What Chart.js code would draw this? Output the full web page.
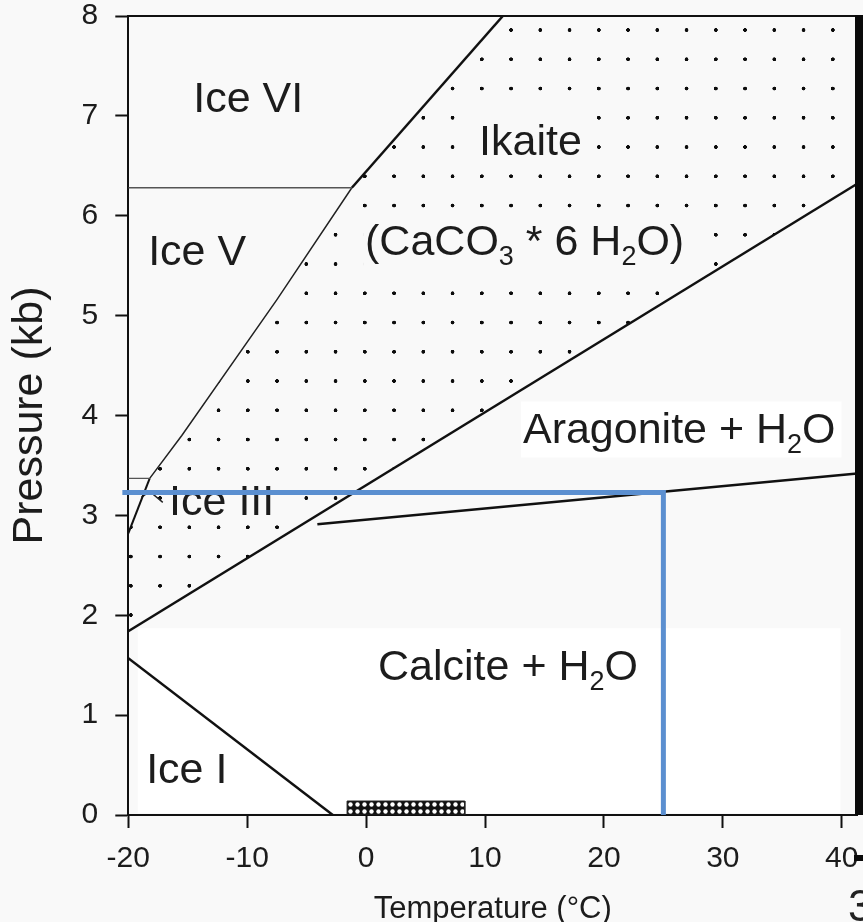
<!DOCTYPE html>
<html lang="en">
<head>
<meta charset="UTF-8">
<title>Ikaite stability field</title>
<script src="https://cdn.jsdelivr.net/npm/chart.js@4.4.1/dist/chart.umd.min.js"></script>
<style>
  html, body { margin: 0; padding: 0; background: #f9f9f9; }
  .wrap { width: 863px; height: 922px; position: relative; }
</style>
</head>
<body>
<div class="wrap"><canvas id="phase"></canvas></div>
<script>
// axis ticks
const tempTicks = [-20, -10, 0, 10, 20, 30, 40];
const pressTicks = [0, 1, 2, 3, 4, 5, 6, 7, 8];

// phase boundaries as [temperature (°C), pressure (kb)]
const iceVIceVI = [[-20, 6.28], [-1.2, 6.28]];
const iceIIIceV = [[-20, 3.37], [-18.2, 3.37]];
const iceIIIIkaite = [[-20, 2.82], [-18.2, 3.37]];
const iceVIkaite = [[-18.2, 3.37], [-15.5, 3.8], [-7.5, 5.16], [-1.2, 6.28]];
const iceVIIkaite = [[-1.2, 6.28], [11.5, 8]];
const ikaiteAragonite = [[-20, 1.84], [41.3, 6.32]];
const aragoniteCalcite = [[-4.1, 2.91], [41.3, 3.42]];
const iceICalcite = [[-20, 1.57], [-2.8, 0]];
const iceIIILeader = [[-18.9, 3.18], [-18.2, 3.24], [-17.1, 3.13]];

// bottom-water band near the x axis
const seafloorBand = [[-1.6, 0], [-1.6, 0.14], [8.3, 0.14], [8.3, 0], [-1.6, 0]];

// highlighted reading: 25 °C at 3.23 kb
const markerPath = [[-20.5, 3.23], [25, 3.23], [25, 0]];

// ikaite field, closed outline built from its boundaries
const ikaiteField = [
  iceVIIkaite[1], [41.3, 8], ikaiteAragonite[1], ikaiteAragonite[0],
  ...iceIIIIkaite, ...iceVIkaite.slice(1), iceVIIkaite[1]
];

// field names, {n} = subscript
const fieldNames = ['Ice VI', 'Ikaite', '(CaCO{3} * 6 H{2}O)', 'Ice V', 'Ice III',
                    'Aragonite + H{2}O', 'Calcite + H{2}O', 'Ice I'];
const fieldNameT = [-14.54, 9.5, -0.09, -18.33, -16.57, 13.19, 1.0, -18.5];
const fieldNameP = [7.04, 6.61, 5.61, 5.51, 3.0, 3.72, 1.35, 0.32];

const FONT = '"Liberation Sans", Arial, Helvetica, sans-serif';
const INK = '#1c1c1c';
const PAGE = '#f9f9f9';
// which names sit on a plain patch (masks the dot screen)
const nameBacking = [null, PAGE, PAGE, null, PAGE, '#ffffff', null, null];

Chart.defaults.font.family = FONT;
Chart.defaults.color = INK;

const ctx = document.getElementById('phase').getContext('2d');

function makeDotPattern() {
  const c = document.createElement('canvas');
  c.width = c.height = 100;
  const g = c.getContext('2d');
  g.fillStyle = '#0c0c0c';
  g.beginPath();
  g.arc(50, 50, 6.6, 0, Math.PI * 2);
  g.fill();
  const p = ctx.createPattern(c, 'repeat');
  const s = 0.2925;
  p.setTransform(new DOMMatrix([s, 0, 0, s, 130.8 - 50 * s, 30 - 50 * s]));
  return p;
}

function makeBeadPattern() {
  const c = document.createElement('canvas');
  c.width = c.height = 7;
  const g = c.getContext('2d');
  g.fillStyle = '#111';
  g.fillRect(0, 0, 7, 7);
  g.fillStyle = '#fff';
  g.beginPath();
  g.arc(3.5, 3.5, 2.2, 0, Math.PI * 2);
  g.fill();
  const p = ctx.createPattern(c, 'repeat');
  p.setTransform(new DOMMatrix([1, 0, 0, 1, 347, 801]));
  return p;
}

const pts = arr => arr.map(([x, y]) => ({ x, y }));

function boundary(label, arr, width, color, order) {
  return {
    label, data: pts(arr), showLine: true, borderColor: color, borderWidth: width,
    pointRadius: 0, fill: false, tension: 0, order
  };
}

const datasets = [
  { label: 'ikaite', data: pts(ikaiteField), showLine: true, borderWidth: 0, borderColor: 'rgba(0,0,0,0)',
    backgroundColor: makeDotPattern(), fill: 'shape', pointRadius: 0, order: 10 },
  { label: 'band', data: pts(seafloorBand), showLine: true, borderWidth: 1, borderColor: '#222',
    backgroundColor: makeBeadPattern(), fill: 'shape', pointRadius: 0, order: 9 },
  boundary('V/VI', iceVIceVI, 1.4, '#555', 5),
  boundary('III/V', iceIIIceV, 1.4, '#555', 5),
  boundary('III/ikaite', iceIIIIkaite, 2, '#111', 5),
  boundary('V/ikaite', iceVIkaite, 1.5, '#222', 5),
  boundary('VI/ikaite', iceVIIkaite, 2.5, '#111', 5),
  boundary('ikaite/aragonite', ikaiteAragonite, 2.5, '#111', 5),
  boundary('aragonite/calcite', aragoniteCalcite, 2.5, '#111', 5),
  boundary('I/calcite', iceICalcite, 2.5, '#111', 5),
  boundary('leader', iceIIILeader, 1.4, '#222', 5),
  Object.assign(boundary('marker', markerPath, 5, '#5b8fd0', 0), { clip: false, borderJoinStyle: 'miter' })
];

function splitName(s) {
  return s.split(/(\{\d\})/).filter(Boolean).map(t =>
    t[0] === '{' ? { t: t.slice(1, -1), sub: true } : { t, sub: false });
}

function drawNames(chart) {
  const c = chart.ctx, xs = chart.scales.x, ys = chart.scales.y;
  const size = 43, subSize = 27;
  c.save();
  c.textBaseline = 'alphabetic';
  fieldNames.forEach((name, i) => {
    const parts = splitName(name);
    const x0 = xs.getPixelForValue(fieldNameT[i]);
    const y0 = ys.getPixelForValue(fieldNameP[i]);
    let w = 0;
    parts.forEach(p => {
      c.font = (p.sub ? subSize : size) + 'px ' + FONT;
      p.w = c.measureText(p.t).width;
      w += p.w;
    });
    if (nameBacking[i]) {
      const hasSub = parts.some(p => p.sub);
      c.fillStyle = nameBacking[i];
      c.fillRect(x0 - 2, y0 - 42, w + 8, 42 + (hasSub ? 14 : 9));
    }
    c.fillStyle = INK;
    let x = x0;
    parts.forEach(p => {
      c.font = (p.sub ? subSize : size) + 'px ' + FONT;
      c.fillText(p.t, x, p.sub ? y0 + 10 : y0);
      x += p.w;
    });
  });
  c.restore();
}

const phaseDecor = {
  id: 'phaseDecor',
  beforeDatasetsDraw(chart) {
    // lighter patch over the calcite field
    const c = chart.ctx, xs = chart.scales.x, ys = chart.scales.y;
    const l = xs.getPixelForValue(-19.2), r = xs.getPixelForValue(39.9);
    const t = ys.getPixelForValue(1.87), b = ys.getPixelForValue(0.02);
    c.save();
    c.fillStyle = '#ffffff';
    c.fillRect(l, t, r - l, b - t);
    c.restore();
  },
  afterDatasetDraw(chart, args) {
    if (chart.data.datasets[args.index].label === 'ikaite') drawNames(chart);
  },
  afterDraw(chart) {
    const c = chart.ctx, a = chart.chartArea;
    c.save();
    c.strokeStyle = '#111';
    c.lineWidth = 2;
    c.beginPath();
    c.moveTo(a.left, a.top);
    c.lineTo(a.right, a.top);
    c.stroke();
    // heavy right edge
    c.fillStyle = '#0a0a0a';
    c.fillRect(855, a.top - 1, 8, a.bottom - a.top + 1);
    c.fillRect(854, 855, 9, 6);
    c.fillStyle = '#222';
    c.font = '44px ' + FONT;
    c.textBaseline = 'alphabetic';
    c.fillText('3', 848, 921);
    c.restore();
  }
};

const axisGrid = { drawOnChartArea: false, drawTicks: true, tickLength: 13, tickColor: '#111', tickWidth: 2 };

new Chart(ctx, {
  type: 'scatter',
  data: { datasets },
  plugins: [phaseDecor],
  options: {
    responsive: true,
    maintainAspectRatio: false,
    animation: false,
    events: [],
    layout: { padding: { top: 16, right: 5.8, left: 0, bottom: 0 } },
    plugins: { legend: { display: false }, tooltip: { enabled: false } },
    scales: {
      x: {
        type: 'linear', min: -20, max: 41.3,
        afterBuildTicks: s => { s.ticks = tempTicks.map(v => ({ value: v })); },
        afterFit: s => { s.height = 107; s.paddingLeft = 0; s.paddingRight = 0; },
        grid: axisGrid,
        border: { display: true, color: '#111', width: 2 },
        ticks: { color: INK, font: { size: 30, lineHeight: 1 }, padding: 16, maxRotation: 0, autoSkip: false },
        title: { display: true, text: 'Temperature (°C)', color: INK,
                 font: { size: 31, lineHeight: 0.8 }, padding: { top: 0, bottom: 0 } }
      },
      y: {
        type: 'linear', min: 0, max: 8,
        afterBuildTicks: s => { s.ticks = pressTicks.map(v => ({ value: v })); },
        afterFit: s => { s.width = 128.3; s.paddingTop = 0; s.paddingBottom = 0; },
        grid: axisGrid,
        border: { display: true, color: '#111', width: 2 },
        ticks: { color: INK, font: { size: 30, lineHeight: 1 }, padding: 17, autoSkip: false },
        title: { display: true, text: 'Pressure (kb)', color: INK,
                 font: { size: 43, lineHeight: 1 }, padding: { top: 8.6, bottom: 0 } }
      }
    }
  }
});
</script>
</body>
</html>
